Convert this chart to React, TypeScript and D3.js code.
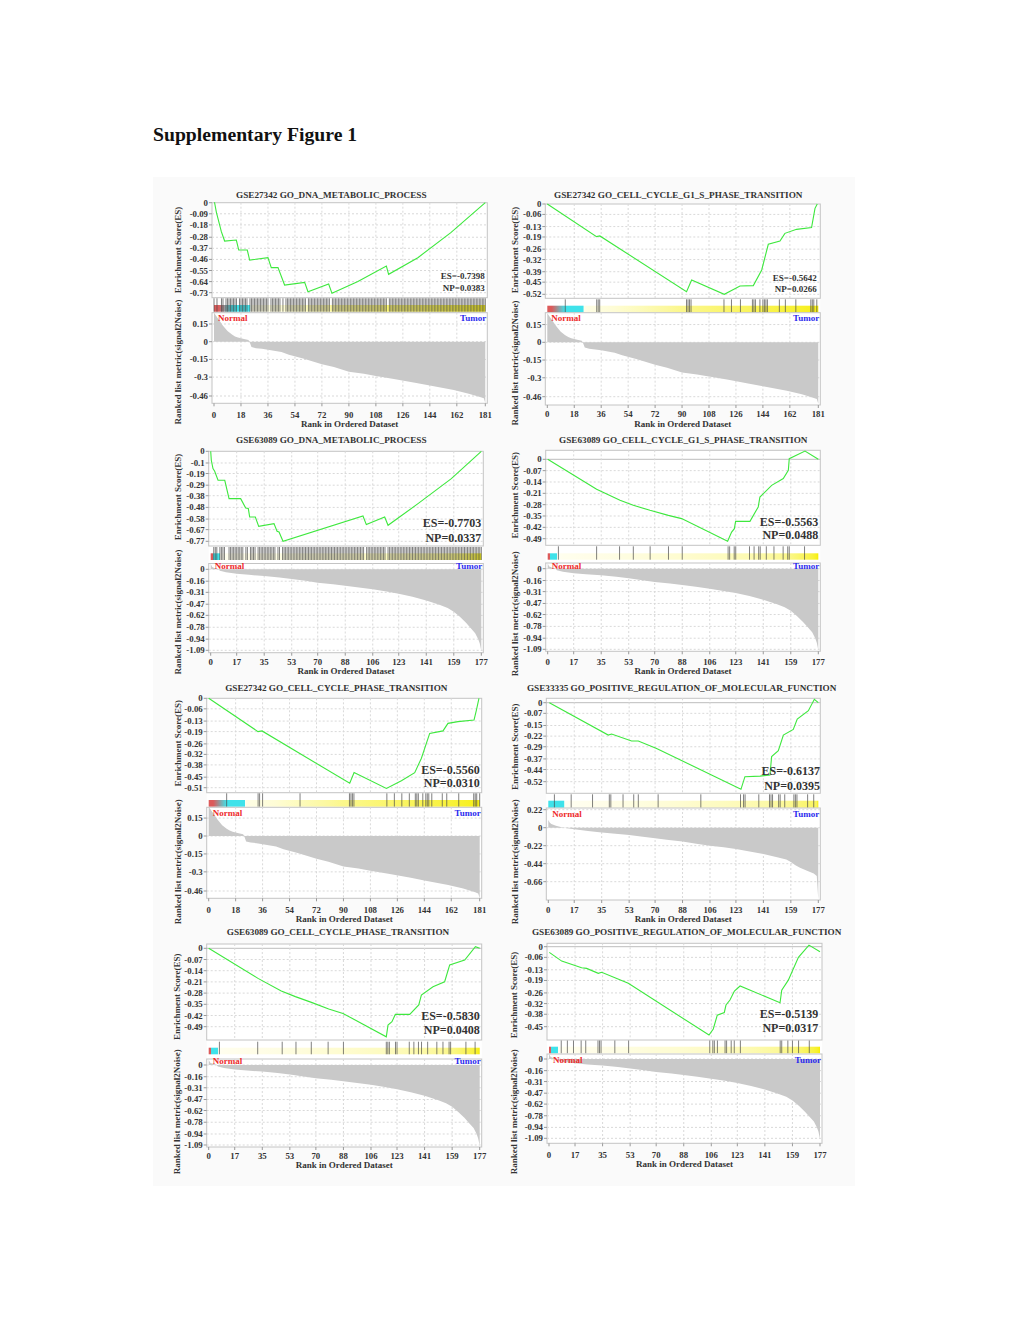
import React from 'react';
import * as d3 from 'd3';

const FONT = '"Liberation Serif","Times New Roman",serif';

// ---------- ranked list metrics (rank, value) ----------
const rk27342R = [0, 3, 6, 9, 12, 14, 16, 20, 23, 24, 25, 28, 32, 36, 45, 50, 60, 72, 80, 90, 100, 108, 120, 135, 144, 160, 170, 178, 180, 181];
const rk27342V = [0.245, 0.19, 0.135, 0.09, 0.06, 0.045, 0.035, 0.022, 0.014, -0.01, -0.045, -0.055, -0.06, -0.068, -0.088, -0.11, -0.144, -0.19, -0.215, -0.255, -0.272, -0.29, -0.315, -0.35, -0.372, -0.41, -0.44, -0.47, -0.48, -0.52];
const rk63089R = [0, 1, 3, 5, 6, 10, 17, 25, 35, 45, 53, 62, 70, 80, 88, 97, 106, 115, 123, 132, 141, 150, 155, 159, 163, 167, 170, 173, 175, 176, 177];
const rk63089V = [0.07, 0.03, 0.012, 0.005, -0.02, -0.04, -0.06, -0.075, -0.09, -0.11, -0.13, -0.155, -0.18, -0.2, -0.22, -0.245, -0.27, -0.3, -0.33, -0.37, -0.42, -0.48, -0.52, -0.57, -0.64, -0.72, -0.79, -0.86, -0.94, -1.0, -1.1];
const rk33335R = [0, 1, 2, 5, 10, 17, 26, 35, 44, 53, 62, 70, 79, 88, 97, 106, 115, 123, 132, 141, 150, 156, 159, 162, 165, 170, 174, 176, 177];
const rk33335V = [0.095, 0.06, 0.046, 0.025, 0, -0.02, -0.04, -0.06, -0.075, -0.09, -0.11, -0.13, -0.15, -0.17, -0.195, -0.22, -0.24, -0.26, -0.29, -0.32, -0.36, -0.39, -0.42, -0.46, -0.49, -0.53, -0.56, -0.59, -0.88];

// color band ranks: [red end, cyan start, cyan end]
const band27342 = [3, 12, 24];
const band63089 = [1.2, 1.6, 5.8];
const band33335 = [-1, 0, 10.3];

// ---------- tick labels ----------
const xTicks181 = [0, 18, 36, 54, 72, 90, 108, 126, 144, 162, 181];
const xTicks177 = [0, 17, 35, 53, 70, 88, 106, 123, 141, 159, 177];
const rkTicks27342 = ['0.15', '0', '-0.15', '-0.3', '-0.46'];
const rkTicks63089 = ['0', '-0.16', '-0.31', '-0.47', '-0.62', '-0.78', '-0.94', '-1.09'];
const rkTicks33335 = ['0.22', '0', '-0.22', '-0.44', '-0.66'];
const p1EsTicks = ['0', '-0.09', '-0.18', '-0.28', '-0.37', '-0.46', '-0.55', '-0.64', '-0.73'];
const p2EsTicks = ['0', '-0.06', '-0.13', '-0.19', '-0.26', '-0.32', '-0.39', '-0.45', '-0.52'];
const p3EsTicks = ['0', '-0.1', '-0.19', '-0.29', '-0.38', '-0.48', '-0.58', '-0.67', '-0.77'];
const p4EsTicks = ['0', '-0.07', '-0.14', '-0.21', '-0.28', '-0.35', '-0.42', '-0.49'];
const p5EsTicks = ['0', '-0.06', '-0.13', '-0.19', '-0.26', '-0.32', '-0.38', '-0.45', '-0.51'];
const p6EsTicks = ['0', '-0.07', '-0.15', '-0.22', '-0.29', '-0.37', '-0.44', '-0.52'];
const p7EsTicks = ['0', '-0.07', '-0.14', '-0.21', '-0.28', '-0.35', '-0.42', '-0.49'];
const p8EsTicks = ['0', '-0.06', '-0.13', '-0.19', '-0.26', '-0.32', '-0.38', '-0.45'];

// ---------- running enrichment scores & hits ----------
const p1EsRank = [0, 0.4, 1.6, 4.9, 7.1, 14.9, 16.5, 22.2, 23.8, 36.0, 38.2, 42.7, 47.1, 60.5, 62.7, 76.5, 78.7, 96, 115, 116.5, 136, 158, 181];
const p1EsVal = [0, 0, -0.078, -0.235, -0.311, -0.303, -0.384, -0.384, -0.465, -0.446, -0.527, -0.527, -0.668, -0.646, -0.722, -0.66, -0.735, -0.64, -0.514, -0.581, -0.446, -0.243, 0];
const p1Misses = [1, 3, 4, 7, 16, 23, 37, 45, 47, 62, 78, 116];

const p2EsRank = [0, 32.9, 35.1, 93, 96.4, 118.2, 128.7, 137.6, 143.2, 147.6, 155.4, 158.7, 166.5, 176.5, 178.8, 180.3];
const p2EsVal = [0, -0.188, -0.184, -0.505, -0.438, -0.52, -0.472, -0.47, -0.38, -0.232, -0.213, -0.169, -0.146, -0.136, -0.025, 0];
const p2Hits = [12, 33, 34, 35, 93, 94, 95, 96, 118, 123, 129, 137, 138, 139, 142, 144, 145, 146, 147, 155, 159, 166, 176, 177, 178, 180];

const p3EsRank = [0, 0.4, 1.5, 2.6, 4.8, 9.2, 12.0, 19.6, 22.9, 24.6, 25.5, 29.2, 31.4, 41.4, 43.4, 44.7, 47.3, 99.6, 101.8, 113.8, 116, 135.6, 157.4, 177];
const p3EsVal = [0, -0.077, -0.148, -0.171, -0.248, -0.248, -0.405, -0.405, -0.485, -0.49, -0.562, -0.562, -0.642, -0.619, -0.684, -0.69, -0.77, -0.553, -0.627, -0.562, -0.633, -0.448, -0.234, 0];
const p3Misses = [0, 1, 5, 10, 11, 22, 25, 30, 43, 46, 101, 115];

const p4EsRank = [0, 32, 47.3, 56, 66.9, 78.9, 87.6, 117.7, 118.6, 120.3, 122.1, 122.9, 132.3, 137.7, 138.8, 146.5, 154.1, 157.4, 158, 168.3, 177];
const p4EsVal = [0, -0.185, -0.253, -0.284, -0.315, -0.346, -0.366, -0.506, -0.486, -0.449, -0.428, -0.383, -0.383, -0.294, -0.233, -0.161, -0.119, -0.068, 0.004, 0.051, 0];
const p4Hits = [7, 32, 47, 56, 67, 79, 88, 118, 119, 122, 123, 132, 135, 138, 139, 143, 148, 154, 157, 158, 168];

const p5EsRank = [0, 32.9, 35.6, 94.2, 97.1, 118.7, 128.7, 137.6, 142, 147.6, 156.5, 159.8, 166.5, 177.2, 178.8, 180.5];
const p5EsVal = [0, -0.19, -0.186, -0.485, -0.424, -0.514, -0.47, -0.424, -0.343, -0.2, -0.186, -0.143, -0.133, -0.124, -0.067, 0];
const p5Hits = [12, 33, 34, 36, 61, 94, 95, 96, 97, 119, 124, 129, 134, 138, 139, 140, 143, 145, 146, 147, 149, 156, 159, 167, 177, 178, 179, 181];

const p6EsRank = [0.7, 39.3, 41.5, 54.6, 59, 71, 126.3, 128.9, 138.8, 145.3, 146.4, 150.8, 154.1, 160.6, 163.2, 170.5, 174.4, 177];
const p6EsVal = [0, -0.213, -0.206, -0.252, -0.252, -0.301, -0.57, -0.487, -0.483, -0.476, -0.355, -0.316, -0.213, -0.176, -0.108, -0.053, 0.022, 0];
const p6Hits = [4, 15, 29, 40, 41, 49, 56, 59, 72, 100, 126, 128, 129, 138, 145, 146, 147, 151, 152, 155, 161, 162, 163, 170, 174];

const p7EsRank = [0, 32.2, 47.4, 56.6, 67.1, 78.4, 87.7, 116, 117.1, 119.7, 121.9, 131.3, 137.2, 138.9, 146.5, 154.1, 157.4, 167.2, 174.2, 177];
const p7EsVal = [0, -0.188, -0.267, -0.302, -0.338, -0.379, -0.407, -0.553, -0.48, -0.459, -0.413, -0.413, -0.354, -0.292, -0.24, -0.209, -0.104, -0.073, 0.01, 0];
const p7Hits = [7, 32, 48, 57, 67, 78, 88, 116, 117, 118, 122, 123, 131, 134, 137, 139, 143, 149, 153, 157, 158, 168, 174];

const p8EsRank = [0.2, 8.3, 21.3, 24.6, 32.2, 34.4, 51.8, 104.5, 107.3, 109.9, 114.5, 115.6, 118.2, 121.1, 124.8, 150.9, 152, 156.3, 162.9, 169.8, 177];
const p8EsVal = [-0.032, -0.081, -0.118, -0.122, -0.15, -0.144, -0.206, -0.497, -0.463, -0.385, -0.37, -0.328, -0.3, -0.249, -0.221, -0.315, -0.244, -0.188, -0.06, 0.009, -0.028];
const p8Hits = [8, 12, 16, 21, 24, 32, 33, 34, 43, 52, 105, 107, 108, 110, 115, 116, 119, 121, 125, 151, 152, 156, 159, 163, 170];

const titles = [
  'GSE27342 GO_DNA_METABOLIC_PROCESS',
  'GSE27342 GO_CELL_CYCLE_G1_S_PHASE_TRANSITION',
  'GSE63089 GO_DNA_METABOLIC_PROCESS',
  'GSE63089 GO_CELL_CYCLE_G1_S_PHASE_TRANSITION',
  'GSE27342 GO_CELL_CYCLE_PHASE_TRANSITION',
  'GSE33335 GO_POSITIVE_REGULATION_OF_MOLECULAR_FUNCTION',
  'GSE63089 GO_CELL_CYCLE_PHASE_TRANSITION',
  'GSE63089 GO_POSITIVE_REGULATION_OF_MOLECULAR_FUNCTION',
];
const esLabels = ['ES=-0.7398', 'ES=-0.5642', 'ES=-0.7703', 'ES=-0.5563', 'ES=-0.5560', 'ES=-0.6137', 'ES=-0.5830', 'ES=-0.5139'];
const npLabels = ['NP=0.0383', 'NP=0.0266', 'NP=0.0337', 'NP=0.0488', 'NP=0.0310', 'NP=0.0395', 'NP=0.0408', 'NP=0.0317'];

const hitsFromMisses = (n: number, misses: number[]) => d3.range(0, n + 1).filter((r) => !misses.includes(r));

// ---------- layout (page pixels) ----------
const layouts = [
  { x0: 214, x1: 485.3, esTop: 202.7, esZero: 202.7, esLastY: 292.7, esBottom: 297.7, hitTop: 298.3, bandTop: 305, bandBottom: 311.7, normY: 318.3, rkTop: 312.7, rkZero: 341.7, rkLastY: 396, rkBottom: 403.3, xTickY: 415, xTitleY: 423.7, titleX: 331.3, titleY: 195, yLabX: 178, esLabY: 250, rkLabY: 362, esTextX: 484.7, esTextY: 275.7, npTextY: 287.7, esFont: 9 },
  { x0: 547.3, x1: 818.3, esTop: 204, esZero: 204, esLastY: 294.3, esBottom: 298.3, hitTop: 299.3, bandTop: 305.7, bandBottom: 312.3, normY: 318.3, rkTop: 312.7, rkZero: 342.3, rkLastY: 396.7, rkBottom: 405, xTickY: 414.3, xTitleY: 423.7, titleX: 678.3, titleY: 195, yLabX: 515, esLabY: 250, rkLabY: 363, esTextX: 816.7, esTextY: 277.7, npTextY: 289, esFont: 9 },
  { x0: 210.7, x1: 481.3, esTop: 451.3, esZero: 451.3, esLastY: 541.3, esBottom: 546, hitTop: 547, bandTop: 553.3, bandBottom: 560, normY: 566.3, rkTop: 563.5, rkZero: 569.3, rkLastY: 650.3, rkBottom: 652.7, xTickY: 662, xTitleY: 671.3, titleX: 331.3, titleY: 440.3, yLabX: 178, esLabY: 497, rkLabY: 612, esTextX: 481.3, esTextY: 522.7, npTextY: 538, esFont: 12 },
  { x0: 547.7, x1: 818.3, esTop: 450.3, esZero: 459.3, esLastY: 538.7, esBottom: 545.3, hitTop: 546.3, bandTop: 553.3, bandBottom: 559.7, normY: 566.3, rkTop: 563, rkZero: 568.7, rkLastY: 649.3, rkBottom: 651.3, xTickY: 662, xTitleY: 671.3, titleX: 683.3, titleY: 440.3, yLabX: 515, esLabY: 495.3, rkLabY: 613.7, esTextX: 818.3, esTextY: 522, npTextY: 535.3, esFont: 12 },
  { x0: 208.7, x1: 479.7, esTop: 698.3, esZero: 698.3, esLastY: 787.7, esBottom: 792.7, hitTop: 793.3, bandTop: 800, bandBottom: 806.7, normY: 812.7, rkTop: 807.3, rkZero: 836, rkLastY: 891, rkBottom: 898.3, xTickY: 910, xTitleY: 918.7, titleX: 336.3, titleY: 688.3, yLabX: 178, esLabY: 743.3, rkLabY: 861.7, esTextX: 479.7, esTextY: 770, npTextY: 783.3, esFont: 12 },
  { x0: 548.3, x1: 818.3, esTop: 698.3, esZero: 702.7, esLastY: 781.7, esBottom: 793.3, hitTop: 794.3, bandTop: 800.7, bandBottom: 807.7, normY: 814.3, rkTop: 808, rkZero: 827.7, rkLastY: 881.7, rkBottom: 900, xTickY: 910, xTitleY: 919.3, titleX: 681.7, titleY: 688.3, yLabX: 515, esLabY: 746.7, rkLabY: 861.7, esTextX: 820, esTextY: 770.7, npTextY: 786, esFont: 12 },
  { x0: 208.7, x1: 479.7, esTop: 944, esZero: 948.3, esLastY: 1026.7, esBottom: 1040, hitTop: 1041.7, bandTop: 1047.7, bandBottom: 1054.3, normY: 1061, rkTop: 1059, rkZero: 1065, rkLastY: 1145, rkBottom: 1147, xTickY: 1155.7, xTitleY: 1165, titleX: 338, titleY: 932.3, yLabX: 177.3, esLabY: 996.7, rkLabY: 1111.7, esTextX: 479.7, esTextY: 1015.7, npTextY: 1030, esFont: 12 },
  { x0: 549, x1: 820, esTop: 943.3, esZero: 946.7, esLastY: 1026.7, esBottom: 1040, hitTop: 1040.5, bandTop: 1046.7, bandBottom: 1053.3, normY: 1060, rkTop: 1054, rkZero: 1059, rkLastY: 1138.3, rkBottom: 1143.3, xTickY: 1155, xTitleY: 1164.3, titleX: 686.7, titleY: 932.3, yLabX: 514.3, esLabY: 995, rkLabY: 1111.7, esTextX: 818.3, esTextY: 1014.3, npTextY: 1028.3, esFont: 12 },
];

const panels = [
  { n: 181, esR: p1EsRank, esV: p1EsVal, hits: hitsFromMisses(181, p1Misses), esTicks: p1EsTicks, rkTicks: rkTicks27342, xTicks: xTicks181, rkR: rk27342R, rkV: rk27342V, band: band27342 },
  { n: 181, esR: p2EsRank, esV: p2EsVal, hits: p2Hits, esTicks: p2EsTicks, rkTicks: rkTicks27342, xTicks: xTicks181, rkR: rk27342R, rkV: rk27342V, band: band27342 },
  { n: 177, esR: p3EsRank, esV: p3EsVal, hits: hitsFromMisses(177, p3Misses), esTicks: p3EsTicks, rkTicks: rkTicks63089, xTicks: xTicks177, rkR: rk63089R, rkV: rk63089V, band: band63089 },
  { n: 177, esR: p4EsRank, esV: p4EsVal, hits: p4Hits, esTicks: p4EsTicks, rkTicks: rkTicks63089, xTicks: xTicks177, rkR: rk63089R, rkV: rk63089V, band: band63089 },
  { n: 181, esR: p5EsRank, esV: p5EsVal, hits: p5Hits, esTicks: p5EsTicks, rkTicks: rkTicks27342, xTicks: xTicks181, rkR: rk27342R, rkV: rk27342V, band: band27342 },
  { n: 177, esR: p6EsRank, esV: p6EsVal, hits: p6Hits, esTicks: p6EsTicks, rkTicks: rkTicks33335, xTicks: xTicks177, rkR: rk33335R, rkV: rk33335V, band: band33335 },
  { n: 177, esR: p7EsRank, esV: p7EsVal, hits: p7Hits, esTicks: p7EsTicks, rkTicks: rkTicks63089, xTicks: xTicks177, rkR: rk63089R, rkV: rk63089V, band: band63089 },
  { n: 177, esR: p8EsRank, esV: p8EsVal, hits: p8Hits, esTicks: p8EsTicks, rkTicks: rkTicks63089, xTicks: xTicks177, rkR: rk63089R, rkV: rk63089V, band: band63089 },
];

const RED = '#dc5a5a';
const CYAN = '#3fe2ea';
const PALE = '#fffef2';
const YEL = '#f6ee00';
const GRID = '#d9d9d9';
const FRAME = '#c4c4c4';
const TXT = '#333';

function Panel({ p, L, idx }: any) {
  const x = d3.scaleLinear().domain([0, p.n]).range([L.x0, L.x1]);
  const esLast = +p.esTicks[p.esTicks.length - 1];
  const yEs = d3.scaleLinear().domain([0, esLast]).range([L.esZero, L.esLastY]);
  const rkLast = +p.rkTicks[p.rkTicks.length - 1];
  const yRk = d3.scaleLinear().domain([0, rkLast]).range([L.rkZero, L.rkLastY]);
  const fl = L.x0 - 2;
  const fr = L.x1 + 2;

  const esPts = p.esR.map((r: number, i: number) => [r, p.esV[i]]);
  const line = d3.line<any>().x((d) => x(d[0])).y((d) => yEs(d[1]));
  const rkPts = p.rkR.map((r: number, i: number) => [r, p.rkV[i]]);
  const area = d3.area<any>().x((d) => x(d[0])).y0(yRk(0)).y1((d) => yRk(d[1]));

  const [redEnd, cyanStart, cyanEnd] = p.band;
  const vMin = d3.min(p.rkV as number[]) as number;
  const yellow = d3.interpolateRgb(PALE, YEL);
  const stops: { o: number; c: string }[] = [];
  if (redEnd >= 0) {
    stops.push({ o: 0, c: RED });
    stops.push({ o: redEnd / p.n, c: RED });
  }
  stops.push({ o: cyanStart / p.n, c: CYAN });
  stops.push({ o: cyanEnd / p.n, c: CYAN });
  stops.push({ o: (cyanEnd + 0.4) / p.n, c: PALE });
  p.rkR.forEach((r: number, i: number) => {
    if (r > cyanEnd + 0.4) {
      const t = Math.max(0, p.rkV[i] / vMin);
      stops.push({ o: r / p.n, c: yellow(Math.pow(t, 1.2)) });
    }
  });
  const gid = `band-${idx}`;

  const tickFont = { fontFamily: FONT, fontSize: 8.8, fontWeight: 700, fill: TXT } as any;
  const labFont = { fontFamily: FONT, fontSize: 9, fontWeight: 700, fill: TXT } as any;

  return (
    <g>
      <defs>
        <linearGradient id={gid} gradientUnits="userSpaceOnUse" x1={x(0)} x2={x(p.n)} y1={0} y2={0}>
          {stops.map((s, i) => (
            <stop key={i} offset={Math.min(1, Math.max(0, s.o))} stopColor={s.c} />
          ))}
        </linearGradient>
      </defs>
      {/* white plot backdrop */}
      <rect x={fl} y={L.esTop} width={fr - fl} height={L.rkBottom - L.esTop} fill="#fff" />
      {/* title */}
      <text x={L.titleX} y={L.titleY} textAnchor="middle" dominantBaseline="central" style={{ ...labFont, fontSize: 9.2 }}>
        {titles[idx]}
      </text>

      {/* ES plot */}
      <rect x={fl} y={L.esTop} width={fr - fl} height={L.esBottom - L.esTop} fill="#fff" stroke={FRAME} strokeWidth={1} />
      {p.esTicks.map((t: string, i: number) => (
        <g key={'eg' + i}>
          {i > 0 || L.esTop !== L.esZero ? (
            <line x1={fl} x2={fr} y1={yEs(+t)} y2={yEs(+t)} stroke={+t === 0 ? '#bdbdbd' : GRID} strokeDasharray={+t === 0 ? undefined : '2,2'} />
          ) : null}
          <line x1={fl - 3} x2={fl} y1={yEs(+t)} y2={yEs(+t)} stroke="#999" />
          <text x={fl - 4} y={yEs(+t)} textAnchor="end" dominantBaseline="central" style={tickFont}>
            {t}
          </text>
        </g>
      ))}
      {p.xTicks.map((t: number, i: number) =>
        i > 0 && i < p.xTicks.length - 1 ? (
          <line key={'ex' + i} x1={x(t)} x2={x(t)} y1={L.esTop} y2={L.esBottom} stroke={GRID} strokeDasharray="2,2" />
        ) : null
      )}
      <path d={line(esPts) || ''} fill="none" stroke="#3ee83e" strokeWidth={1.1} />
      <text x={L.esTextX} y={L.esTextY} textAnchor="end" dominantBaseline="central" style={{ ...labFont, fontSize: L.esFont }}>
        {esLabels[idx]}
      </text>
      <text x={L.esTextX} y={L.npTextY} textAnchor="end" dominantBaseline="central" style={{ ...labFont, fontSize: L.esFont }}>
        {npLabels[idx]}
      </text>

      {/* color band & hits */}
      <rect x={x(0)} y={L.bandTop} width={x(p.n) - x(0)} height={L.bandBottom - L.bandTop} fill={`url(#${gid})`} />
      {p.hits.map((h: number, i: number) => (
        <line key={'h' + i} x1={x(h)} x2={x(h)} y1={L.hitTop} y2={L.bandBottom} stroke="#4a4a4a" strokeOpacity={0.7} strokeWidth={1} />
      ))}

      {/* ranked metric plot */}
      <rect x={fl} y={L.rkTop} width={fr - fl} height={L.rkBottom - L.rkTop} fill="#fff" stroke={FRAME} strokeWidth={1} />
      {p.rkTicks.map((t: string, i: number) => (
        <g key={'rg' + i}>
          <line x1={fl} x2={fr} y1={yRk(+t)} y2={yRk(+t)} stroke={GRID} strokeDasharray="2,2" />
          <line x1={fl - 3} x2={fl} y1={yRk(+t)} y2={yRk(+t)} stroke="#999" />
          <text x={fl - 4} y={yRk(+t)} textAnchor="end" dominantBaseline="central" style={tickFont}>
            {t}
          </text>
        </g>
      ))}
      {p.xTicks.map((t: number, i: number) => (
        <g key={'rx' + i}>
          {i > 0 && i < p.xTicks.length - 1 ? (
            <line x1={x(t)} x2={x(t)} y1={L.rkTop} y2={L.rkBottom} stroke={GRID} strokeDasharray="2,2" />
          ) : null}
          <line x1={x(t)} x2={x(t)} y1={L.rkBottom} y2={L.rkBottom + 3} stroke="#999" />
          <text x={x(t)} y={L.xTickY} textAnchor="middle" dominantBaseline="central" style={tickFont}>
            {t}
          </text>
        </g>
      ))}
      <path d={area(rkPts) || ''} fill="#c9c9c9" stroke="none" />
      <text x={L.x0 + 4} y={L.normY} dominantBaseline="central" style={{ ...labFont, fill: '#ee2b2b' }}>
        Normal
      </text>
      <text x={L.x1 + 1} y={L.normY} textAnchor="end" dominantBaseline="central" style={{ ...labFont, fill: '#2b2bee' }}>
        Tumor
      </text>

      {/* axis titles */}
      <text x={(L.x0 + L.x1) / 2} y={L.xTitleY} textAnchor="middle" dominantBaseline="central" style={labFont}>
        Rank in Ordered Dataset
      </text>
      <text transform={`translate(${L.yLabX},${L.esLabY}) rotate(-90)`} textAnchor="middle" dominantBaseline="central" style={labFont}>
        Enrichment Score(ES)
      </text>
      <text transform={`translate(${L.yLabX},${L.rkLabY}) rotate(-90)`} textAnchor="middle" dominantBaseline="central" style={labFont}>
        Ranked list metric(signal2Noise)
      </text>
    </g>
  );
}

export default function App() {
  return (
    <svg width={1020} height={1320} style={{ position: 'absolute', left: 0, top: 0, background: '#fff' }}>
      <rect x={0} y={0} width={1020} height={1320} fill="#fff" />
      <text x={153} y={141} style={{ fontFamily: FONT, fontSize: 19.7, fontWeight: 700, fill: '#111' }}>
        Supplementary Figure 1
      </text>
      <rect x={153} y={177} width={702} height={1009} fill="#fafafa" />
      {panels.map((p, i) => (
        <Panel key={i} p={p} L={layouts[i]} idx={i} />
      ))}
    </svg>
  );
}
